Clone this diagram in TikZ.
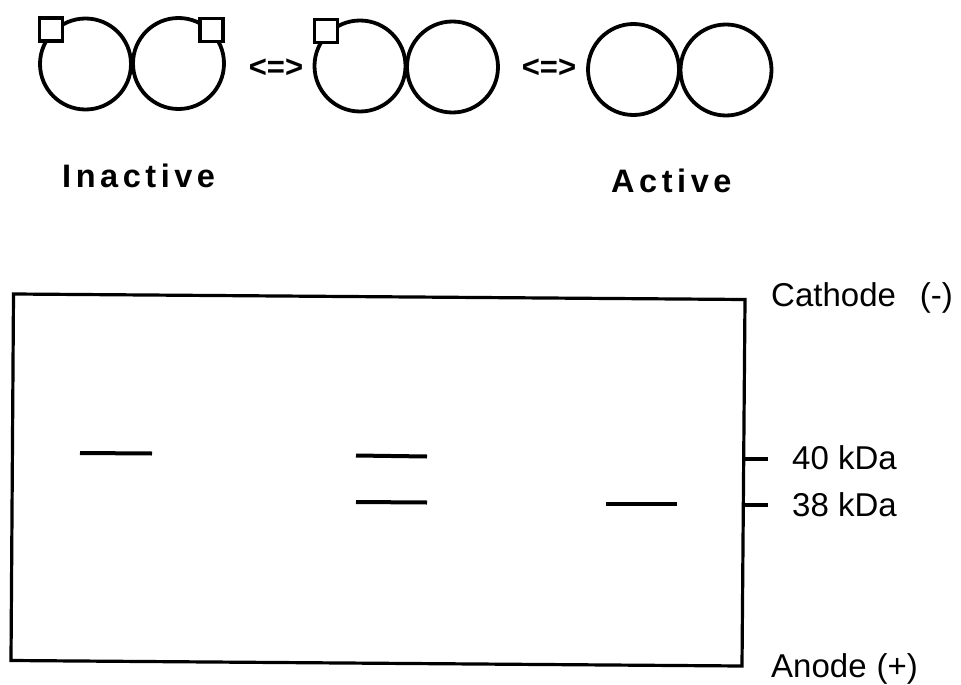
\documentclass[tikz,border=0pt]{standalone}
\usepackage{fontspec}
\setmainfont{Liberation Sans}
\begin{document}
\begin{tikzpicture}[x=1pt,y=-1pt,
  ring/.style={draw, circle, line width=3.8pt, minimum size=91pt, inner sep=0pt},
  tag/.style={draw, fill=white, rectangle, line width=3.8pt, minimum size=23pt, inner sep=0pt},
  eqv/.style={font=\fontsize{31}{36}\selectfont\bfseries, inner sep=0pt},
  state/.style={font=\fontsize{32.5}{38}\selectfont\bfseries\addfontfeature{LetterSpace=14}, inner sep=0pt, anchor=base west},
  lbl/.style={font=\fontsize{33}{38}\selectfont, inner sep=0pt, anchor=base west},
  band/.style={line width=4pt},
  gel/.style={line width=3.2pt, line join=miter}]
\useasboundingbox (0,0) rectangle (961,685);
% top row
\node[ring] (c1) at (85.5,64) {};
\node[ring] (c2) at (178.5,63.5) {};
\node[tag] (s1) at (51,29.5) {};
\node[tag] (s2) at (211.5,30) {};
\node[eqv] (e1) at (276,68) {<=>};
\node[ring] (c3) at (360,66) {};
\node[ring] (c4) at (452.5,67) {};
\node[tag] (s3) at (326,31) {};
\node[eqv] (e2) at (549,68) {<=>};
\node[ring] (c5) at (633.5,69.5) {};
\node[ring] (c6) at (726,70) {};
\node[state] (inact) at (62,187) {Inactive};
\node[state] (act) at (611,192) {Active};
% gel
\coordinate (tl) at (13.5,294);
\coordinate (tr) at (745,299.5);
\coordinate (br) at (742,666);
\coordinate (bl) at (11,660.5);
\draw[gel] (tl) -- (tr) -- (br) -- (bl) -- cycle;
\coordinate (b1a) at (80,453); \coordinate (b1b) at (152,453.5);
\coordinate (b2a) at (356,455.5); \coordinate (b2b) at (427,456.5);
\coordinate (b3a) at (356,502); \coordinate (b3b) at (427,502.5);
\coordinate (b4a) at (606,504); \coordinate (b4b) at (677,504);
\draw[band] (b1a) -- (b1b);
\draw[band] (b2a) -- (b2b);
\draw[band] (b3a) -- (b3b);
\draw[band] (b4a) -- (b4b);
\coordinate (t1a) at (744,459); \coordinate (t1b) at (768,459);
\coordinate (t2a) at (743.5,505); \coordinate (t2b) at (768,505);
\draw[band] (t1a) -- (t1b);
\draw[band] (t2a) -- (t2b);
\node[lbl] (k40) at (792,469.5) {40 kDa};
\node[lbl] (k38) at (792,516) {38 kDa};
\node[lbl] (cath) at (771,306) {Cathode\hspace{24pt}(-)};
\node[lbl] (anod) at (771,677) {Anode\hspace{10pt}(+)};
\end{tikzpicture}
\end{document}
